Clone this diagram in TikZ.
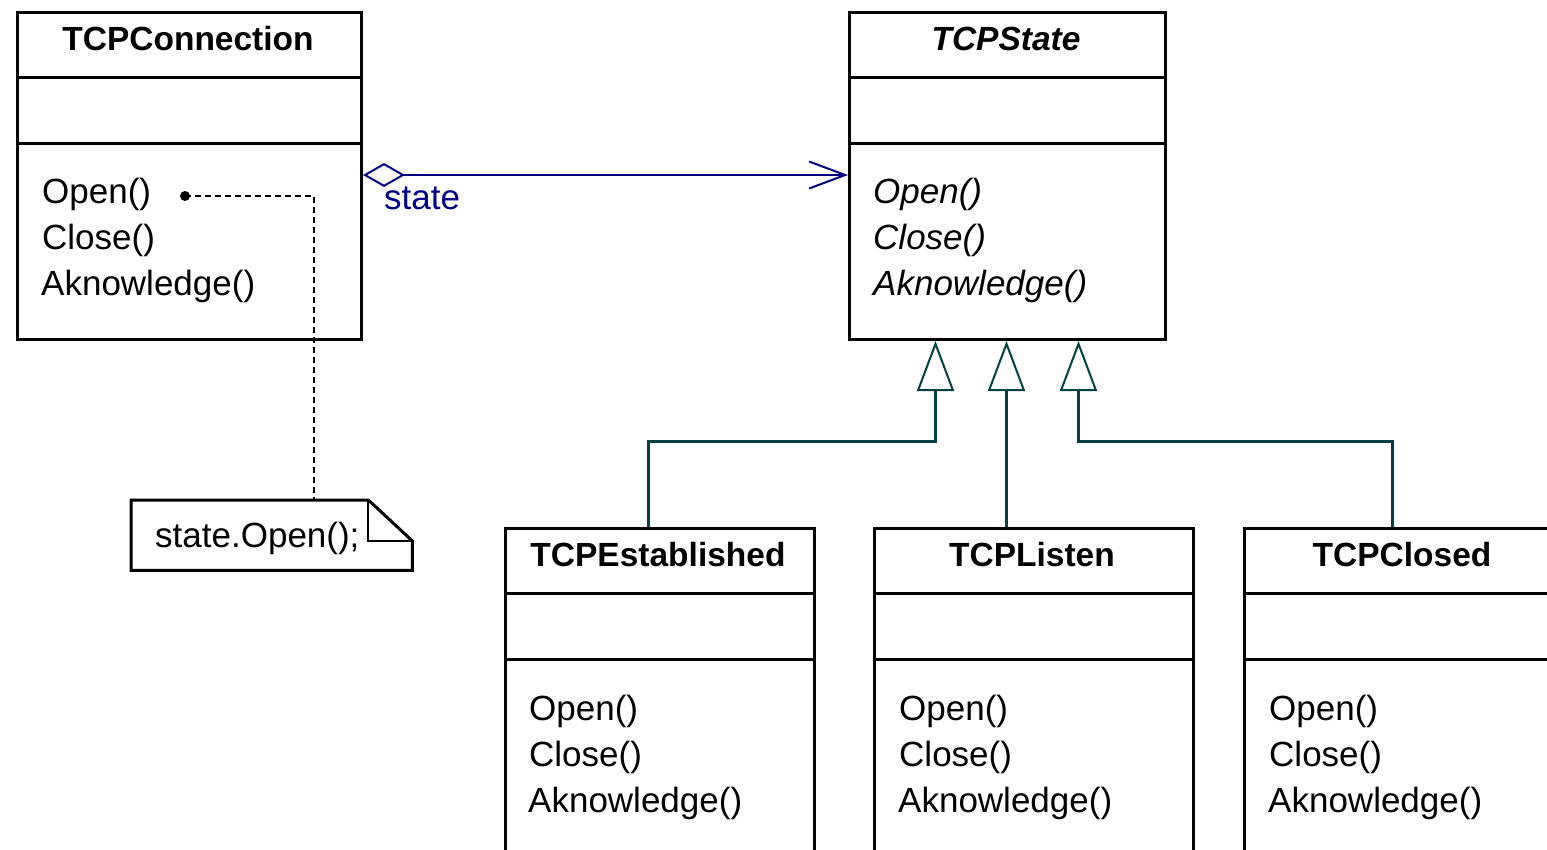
\documentclass[tikz,border=0pt]{standalone}
\usepackage{fontspec}
\setmainfont{Liberation Sans}
\usetikzlibrary{arrows.meta,calc}
\definecolor{assocc}{RGB}{0,0,128}
\definecolor{genc}{RGB}{0,64,64}
\newcommand\umlfont{\fontsize{35}{40}\selectfont}
\newcommand\umltitlefont{\fontsize{33.5}{40}\selectfont}
\begin{document}
\begin{tikzpicture}[x=1pt,y=-1pt,
  classbox/.style={draw,line width=3pt,rectangle,anchor=north west,inner sep=0pt},
  divider/.style={line width=3pt},
  title/.style={anchor=base,inner sep=0pt,font=\umltitlefont\bfseries},
  meth/.style={anchor=base west,inner sep=0pt,font=\umlfont},
  assoc/.style={draw=assocc,line width=2pt,
    {Diamond[open,length=42pt,width=24pt,line width=2pt]}-{Straight Barb[length=36pt,width=27pt,line width=2pt]}},
  gen/.style={draw=genc,line width=3pt,-{Triangle[open,length=50pt,width=37pt,line width=2pt,fill=white]}},
  notelink/.style={line width=1.5pt,dash pattern=on 6pt off 4pt}
]
\useasboundingbox (0,0) rectangle (1547,849);
\clip (0,0) rectangle (1547,849);
\fill[white] (0,0) rectangle (1547,849);

% TCPConnection
\node[classbox,minimum width=344pt,minimum height=327pt] (conn) at (16,11) {};
\draw[divider] (conn.west |- 0,77) -- (conn.east |- 0,77);
\draw[divider] (conn.west |- 0,143) -- (conn.east |- 0,143);
\node[title] (connT) at (188,50) {TCPConnection};
\node[meth] (connM1) at (42,203) {Open()};
\node[meth] (connM2) at (42,249) {Close()};
\node[meth] (connM3) at (41,295) {Aknowledge()};

% TCPState
\node[classbox,minimum width=316pt,minimum height=327pt] (state) at (848,11) {};
\draw[divider] (state.west |- 0,77) -- (state.east |- 0,77);
\draw[divider] (state.west |- 0,143) -- (state.east |- 0,143);
\node[title,font=\umltitlefont\bfseries\itshape] (stateT) at (1006,50) {TCPState};
\node[meth,font=\umlfont\itshape] (stateM1) at (873,203) {Open()};
\node[meth,font=\umlfont\itshape] (stateM2) at (873,249) {Close()};
\node[meth,font=\umlfont\itshape] (stateM3) at (873,295) {Aknowledge()};

% subclasses
\node[classbox,minimum width=309pt,minimum height=400pt] (est) at (504,527) {};
\node[classbox,minimum width=319pt,minimum height=400pt] (lis) at (873,527) {};
\node[classbox,minimum width=319pt,minimum height=400pt] (clo) at (1243,527) {};
\foreach \b in {est,lis,clo}{
  \draw[divider] (\b.west |- 0,593) -- (\b.east |- 0,593);
  \draw[divider] (\b.west |- 0,659) -- (\b.east |- 0,659);
}
\node[title] (estT) at (658,566) {TCPEstablished};
\node[title] (lisT) at (1032,566) {TCPListen};
\node[title] (cloT) at (1402,566) {TCPClosed};
\foreach \b/\x in {est/529,lis/899,clo/1269}{
  \node[meth] (\b M1) at (\x,720) {Open()};
  \node[meth] (\b M2) at (\x,766) {Close()};
  \node[meth] (\b M3) at (\x-1,812) {Aknowledge()};
}

% association
\coordinate (aS) at (conn.east |- 0,175);
\coordinate (aE) at (state.west |- 0,175);
\draw[assoc] (aS) -- (aE);
\node[meth,text=assocc] (assocL) at (384,209) {state};

% generalizations
\coordinate (t1) at ([xshift=-72pt]state.south);
\coordinate (t2) at ([xshift=-1pt]state.south);
\coordinate (t3) at ([xshift=71pt]state.south);
\coordinate (e1) at (est.north -| 648,0);
\coordinate (e2) at (lis.north -| t2);
\coordinate (e3) at (clo.north -| 1392,0);
\draw[gen] (e1) -- ++(0,-86) -| (t1);
\draw[gen] (e2) -- (t2);
\draw[gen] (e3) -- ++(0,-86) -| (t3);

% note
\node[inner sep=0pt,minimum width=281pt,minimum height=70pt,anchor=north west] (note) at (131,500) {};
\draw[line width=3pt,line join=miter]
  (note.north west) -- ([xshift=-44pt]note.north east) -- ([yshift=-41pt]note.north east)
  -- (note.south east) -- (note.south west) -- cycle;
\draw[line width=2pt]
  ([xshift=-44pt]note.north east) -- ([xshift=-44pt,yshift=-41pt]note.north east) -- ([yshift=-41pt]note.north east);
\node[meth] (noteT) at (155,547) {state.Open();};

% note link
\coordinate (dot) at (185,196);
\fill (dot) circle (5pt);
\coordinate (nl) at (note.north -| 314,0);
\draw[notelink] (dot) -| (nl);
\end{tikzpicture}
\end{document}
